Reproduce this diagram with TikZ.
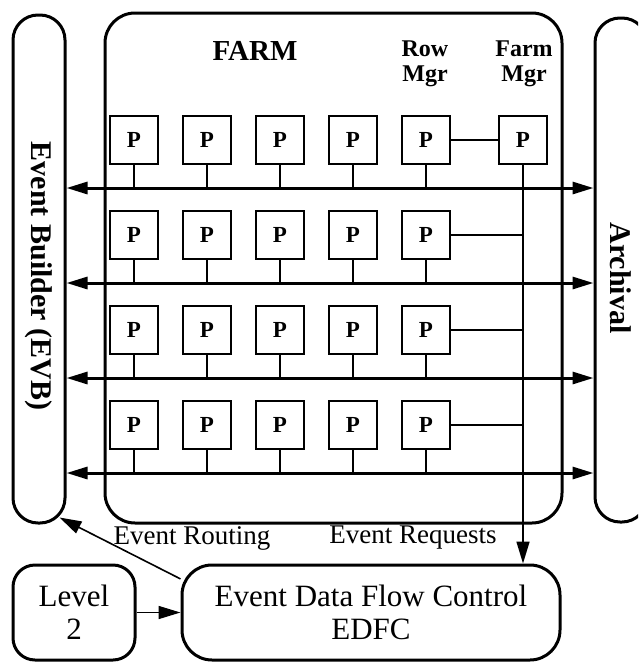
\documentclass[tikz,border=0pt]{standalone}
\usepackage{fontspec}
\setmainfont{Liberation Serif}
\usetikzlibrary{arrows.meta,positioning}
\tikzset{
  frame/.style={draw, line width=3pt, inner sep=0pt},
  proc/.style={draw, line width=1.4pt, minimum size=48pt, inner sep=0pt,
               font=\fontsize{23}{25}\selectfont\bfseries},
  bus/.style={{Triangle[length=21pt,width=12pt]}-{Triangle[length=21pt,width=12pt]}, line width=3pt},
  flow/.style={-{Triangle[length=22pt,width=13pt]}, line width=1.6pt},
  stub/.style={line width=1.4pt},
  big/.style={font=\fontsize{31}{33}\selectfont, align=center},
  side/.style={font=\fontsize{30}{32}\selectfont\bfseries, rotate=-90},
  mgr/.style={font=\fontsize{24}{25}\selectfont\bfseries, align=center},
  tag/.style={font=\fontsize{27}{29}\selectfont},
}
\begin{document}
\begin{tikzpicture}[x=1pt, y=-1pt]
    \clip (0,0) rectangle (638,662);
    \fill[white] (0,0) rectangle (638,662);

    % outer blocks
    \node[frame, minimum width=52pt, minimum height=508pt, rounded corners=25pt] (evb) at (39,269) {};
    \node[side] (evblbl) at (39,276) {Event Builder (EVB)};
    \node[frame, minimum width=457pt, minimum height=510pt, rounded corners=30pt] (farm) at (333.5,268) {};
    \node[frame, minimum width=52pt, minimum height=504pt, rounded corners=25pt] (arc) at (621,270) {};
    \node[side] (arclbl) at (621,278) {Archival};
    \node[frame, big, minimum width=378pt, minimum height=95pt, rounded corners=30pt] (edfc) at (371,612.5) {Event Data Flow Control\\EDFC};
    \node[frame, big, minimum width=122pt, minimum height=95pt, rounded corners=22pt] (lvl) at (74,612.5) {Level\\2};

    % farm labels
    \node[font=\fontsize{29}{31}\selectfont\bfseries] (farmlbl) at (255,51) {FARM};
    \node[mgr] (rowlbl) at (425,64) {Row\\Mgr};
    \node[mgr] (fmlbl) at (524,64) {Farm\\Mgr};

    % farm manager
    \node[proc] (fm) at (523,140) {P};

    % processor rows and buses
    \foreach \r in {1,...,4} {
      \coordinate (bus\r) at (0,{140+95*(\r-1)+48});
      \foreach \c in {1,...,5}
        \node[proc] (p\r\c) at ({134+73*(\c-1)},{140+95*(\r-1)}) {P};
      \foreach \c in {1,...,5}
        \draw[stub] (p\r\c.south) -- (p\r\c.south |- bus\r);
      \draw[bus] (evb.east |- bus\r) -- (arc.west |- bus\r);
    }

    % row managers to farm manager
    \draw[stub] (p15.east) -- (fm.west);
    \foreach \r in {2,3,4}
      \draw[stub] (p\r5.east) -- (p\r5.east -| fm.south);

    % control paths
    \draw[flow] (fm.south) -- (fm.south |- edfc.north);
    \draw[flow] (edfc.170) -- ([xshift=-7pt,yshift=7pt]evb.south east);
    \draw[flow] (lvl.east) -- (edfc.west);
    \node[tag] (routing) at (192,538) {Event Routing};
    \node[tag] (requests) at (413,538) {Event Requests};
  \end{tikzpicture}
\end{document}
